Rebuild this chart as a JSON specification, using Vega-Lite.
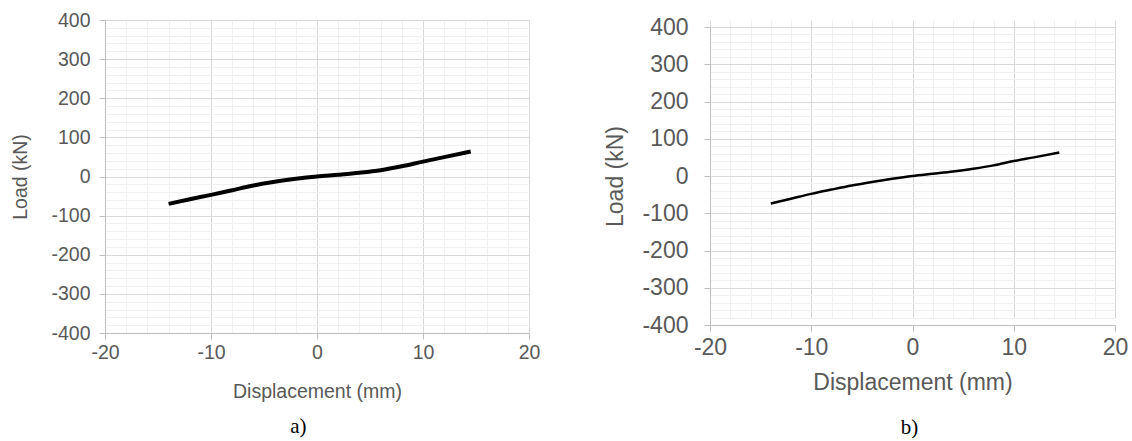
{
  "$schema": "https://vega.github.io/schema/vega-lite/v6.json",
  "background": "white",
  "padding": {"left": 10, "top": 10, "right": 4, "bottom": 0},
  "spacing": 64,
  "config": {
    "view": {"stroke": null},
    "font": "Liberation Sans",
    "axis": {
      "grid": true,
      "domainColor": "#bfbfbf",
      "tickSize": 6,
      "labelColor": "#595959",
      "titleColor": "#595959",
      "titleFontWeight": "normal",
      "labelFont": "Liberation Sans",
      "titleFont": "Liberation Sans",
      "labelOverlap": false,
      "labelFlush": false,
      "tickColor": "#bfbfbf"
    }
  },
  "hconcat": [
    {
      "width": 424,
      "height": 313,
      "title": {"text": "a)", "orient": "bottom", "anchor": "middle", "frame": "bounds", "font": "Liberation Serif", "fontSize": 21, "fontWeight": "normal", "color": "#000000", "offset": 15, "dx": 23},
      "data": {"values": [
        {"disp": -14, "load": -70},
        {"disp": -12, "load": -58},
        {"disp": -10, "load": -47},
        {"disp": -8, "load": -35},
        {"disp": -6, "load": -23},
        {"disp": -4, "load": -13.5},
        {"disp": -2, "load": -6},
        {"disp": 0, "load": 0},
        {"disp": 2, "load": 4.5},
        {"disp": 4, "load": 9.5},
        {"disp": 6, "load": 16},
        {"disp": 8, "load": 26},
        {"disp": 10, "load": 38},
        {"disp": 12, "load": 49.5},
        {"disp": 14.5, "load": 64}
      ]},
      "mark": {"type": "line", "color": "#000000", "strokeWidth": 4, "interpolate": "monotone"},
      "encoding": {
        "x": {
          "field": "disp", "type": "quantitative",
          "scale": {"domain": [-20, 20], "nice": false, "zero": false},
          "axis": {
            "title": "Displacement (mm)",
            "values": [-20,-18,-16,-14,-12,-10,-8,-6,-4,-2,0,2,4,6,8,10,12,14,16,18,20],
            "labelExpr": "datum.value % 10 === 0 ? '' + datum.value : ''",
            "gridColor": {"condition": {"test": "datum.value % 10 === 0", "value": "#d9d9d9"}, "value": "#f0f0f0"},
            "tickOpacity": {"condition": {"test": "datum.value % 10 === 0", "value": 1}, "value": 0},
            "labelFontSize": 19.5,
            "labelPadding": 4,
            "titleFontSize": 19.5,
            "titlePadding": 21
          }
        },
        "y": {
          "field": "load", "type": "quantitative",
          "scale": {"domain": [-400, 400], "nice": false, "zero": false},
          "axis": {
            "title": "Load (kN)",
            "values": [-400,-380,-360,-340,-320,-300,-280,-260,-240,-220,-200,-180,-160,-140,-120,-100,-80,-60,-40,-20,0,20,40,60,80,100,120,140,160,180,200,220,240,260,280,300,320,340,360,380,400],
            "labelExpr": "datum.value % 100 === 0 ? '' + datum.value : ''",
            "gridColor": {"condition": {"test": "datum.value % 100 === 0", "value": "#d9d9d9"}, "value": "#f0f0f0"},
            "tickOpacity": {"condition": {"test": "datum.value % 100 === 0", "value": 1}, "value": 0},
            "labelFontSize": 19.5,
            "labelPadding": 9,
            "titleFontSize": 19.5,
            "titlePadding": 20
          }
        }
      }
    },
    {
      "width": 405,
      "height": 305,
      "title": {"text": "b)", "orient": "bottom", "anchor": "middle", "frame": "bounds", "font": "Liberation Serif", "fontSize": 21, "fontWeight": "normal", "color": "#000000", "offset": 23, "dx": 43},
      "data": {"values": [
        {"disp": -14, "load": -74},
        {"disp": -12, "load": -61},
        {"disp": -10, "load": -48},
        {"disp": -8, "load": -36.5},
        {"disp": -6, "load": -25.5},
        {"disp": -4, "load": -16},
        {"disp": -2, "load": -7.5},
        {"disp": 0, "load": 0},
        {"disp": 2, "load": 6},
        {"disp": 4, "load": 12},
        {"disp": 6, "load": 19.5},
        {"disp": 8, "load": 28.5},
        {"disp": 10, "load": 40},
        {"disp": 12, "load": 50},
        {"disp": 14.5, "load": 63}
      ]},
      "mark": {"type": "line", "color": "#000000", "strokeWidth": 2.5, "interpolate": "monotone"},
      "encoding": {
        "x": {
          "field": "disp", "type": "quantitative",
          "scale": {"domain": [-20, 20], "nice": false, "zero": false},
          "axis": {
            "title": "Displacement (mm)",
            "values": [-20,-18,-16,-14,-12,-10,-8,-6,-4,-2,0,2,4,6,8,10,12,14,16,18,20],
            "labelExpr": "datum.value % 10 === 0 ? '' + datum.value : ''",
            "gridColor": {"condition": {"test": "datum.value % 10 === 0", "value": "#d9d9d9"}, "value": "#f0f0f0"},
            "tickOpacity": {"condition": {"test": "datum.value % 10 === 0", "value": 1}, "value": 0},
            "labelFontSize": 23,
            "labelPadding": 5,
            "titleFontSize": 23,
            "titlePadding": 12
          }
        },
        "y": {
          "field": "load", "type": "quantitative",
          "scale": {"domain": [-400, 400], "nice": false, "zero": false, "range": [305, 7]},
          "axis": {
            "title": "Load (kN)",
            "values": [-400,-380,-360,-340,-320,-300,-280,-260,-240,-220,-200,-180,-160,-140,-120,-100,-80,-60,-40,-20,0,20,40,60,80,100,120,140,160,180,200,220,240,260,280,300,320,340,360,380,400],
            "labelExpr": "datum.value % 100 === 0 ? '' + datum.value : ''",
            "gridColor": {"condition": {"test": "datum.value % 100 === 0", "value": "#d9d9d9"}, "value": "#f0f0f0"},
            "tickOpacity": {"condition": {"test": "datum.value % 100 === 0", "value": 1}, "value": 0},
            "labelFontSize": 23,
            "labelPadding": 16,
            "titleFontSize": 23,
            "titlePadding": 14
          }
        }
      }
    }
  ]
}
